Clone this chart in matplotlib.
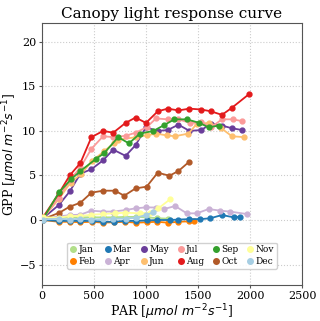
import matplotlib
matplotlib.use("Agg")
import matplotlib.pyplot as plt
from matplotlib.lines import Line2D

plt.rcParams['font.family'] = ['DejaVu Serif']
plt.rcParams['mathtext.fontset'] = 'dejavusans'

months = ['Jan', 'Feb', 'Mar', 'Apr', 'May', 'Jun', 'Jul', 'Aug', 'Sep', 'Oct', 'Nov', 'Dec']
colors = ['#b2df8a', '#ff7f00', '#1f78b4', '#cab2d6', '#6a3d9a', '#fdbf6f',
          '#fb9a99', '#e31a1c', '#33a02c', '#b15928', '#ffff99', '#a6cee3']

jan_par = [10, 160, 270, 370, 480, 590, 690, 800, 905, 1005, 1110, 1210]
jan_gpp = [0.2, 0.25, 0.3, 0.3, 0.3, 0.3, 0.3, 0.35, 0.35, 0.3, 0.2, 0.15]
feb_par = [10, 160, 270, 370, 480, 590, 690, 800, 905, 1005, 1110, 1210, 1310, 1415, 1460]
feb_gpp = [0.0, -0.2, -0.2, -0.25, -0.2, -0.3, -0.25, -0.2, -0.3, -0.25, -0.2, -0.3, -0.2, -0.15, -0.1]
mar_par = [10, 160, 270, 370, 480, 590, 690, 800, 905, 1005, 1110, 1226, 1312, 1418, 1520, 1617, 1730, 1843, 1907]
mar_gpp = [0.0, -0.1, -0.1, -0.1, -0.1, -0.2, -0.2, -0.1, -0.1, -0.05, 0.0, 0.0, 0.05, 0.1, 0.1, 0.19, 0.56, 0.3, 0.37]
apr_par = [10, 160, 270, 370, 476, 588, 685, 804, 900, 1000, 1100, 1174, 1280, 1392, 1489, 1601, 1714, 1810, 1971]
apr_gpp = [0.1, 0.4, 0.55, 0.6, 1.05, 0.95, 0.95, 1.12, 1.31, 1.42, 1.4, 1.23, 1.57, 0.75, 0.75, 1.23, 1.05, 0.94, 0.67]
may_par = [10, 164, 267, 370, 476, 588, 685, 804, 900, 1000, 1113, 1209, 1312, 1418, 1531, 1624, 1730, 1826, 1923]
may_gpp = [0.2, 1.7, 3.2, 5.2, 5.7, 6.7, 7.9, 7.2, 8.4, 10.4, 10.0, 10.1, 10.7, 10.0, 10.1, 10.8, 10.6, 10.3, 10.1]
jun_par = [10, 165, 275, 380, 480, 595, 690, 727, 905, 1005, 1097, 1199, 1277, 1408, 1489, 1610, 1723, 1826, 1945]
jun_gpp = [0.2, 2.4, 4.2, 5.2, 6.6, 7.7, 8.6, 9.0, 9.3, 9.5, 9.7, 9.5, 9.4, 9.7, 10.8, 10.9, 10.3, 9.4, 9.3]
jul_par = [10, 160, 270, 370, 476, 588, 685, 804, 900, 1005, 1097, 1209, 1312, 1424, 1531, 1625, 1730, 1835, 1923]
jul_gpp = [0.2, 2.5, 4.5, 5.9, 8.0, 9.4, 9.3, 9.45, 9.8, 10.4, 11.4, 11.3, 11.3, 10.9, 10.95, 10.4, 11.3, 11.3, 11.1]
aug_par = [10, 164, 267, 370, 476, 588, 685, 804, 900, 1000, 1113, 1209, 1312, 1418, 1531, 1624, 1730, 1826, 1987]
aug_gpp = [0.3, 3.0, 5.0, 6.4, 9.3, 10.0, 9.8, 10.9, 11.5, 10.9, 12.2, 12.5, 12.3, 12.5, 12.4, 12.2, 11.8, 12.6, 14.1]
sep_par = [10, 164, 283, 370, 524, 598, 733, 836, 942, 1071, 1174, 1273, 1392, 1514, 1601, 1698]
sep_gpp = [0.1, 3.1, 4.6, 5.5, 6.9, 7.5, 9.3, 8.6, 9.7, 10.0, 10.65, 11.3, 11.3, 10.9, 10.4, 10.6]
oct_par = [10, 164, 267, 370, 476, 588, 701, 791, 900, 1006, 1113, 1225, 1312, 1415]
oct_gpp = [0.1, 0.8, 1.5, 1.94, 3.07, 3.29, 3.29, 2.73, 3.55, 3.74, 5.31, 4.97, 5.5, 6.54]
nov_par = [10, 160, 270, 370, 476, 588, 701, 800, 942, 1038, 1119, 1231]
nov_gpp = [0.3, 0.26, 0.45, 0.45, 0.6, 0.67, 0.75, 0.82, 0.75, 0.82, 1.31, 2.32]
dec_par = [10, 160, 270, 370, 476, 588, 685, 804, 900, 1000, 1071]
dec_gpp = [0.05, 0.15, 0.05, 0.15, 0.05, 0.1, 0.15, 0.15, 0.25, 0.56, 0.86]

series = [(jan_par, jan_gpp), (feb_par, feb_gpp), (mar_par, mar_gpp), (apr_par, apr_gpp),
          (may_par, may_gpp), (jun_par, jun_gpp), (jul_par, jul_gpp), (aug_par, aug_gpp),
          (sep_par, sep_gpp), (oct_par, oct_gpp), (nov_par, nov_gpp), (dec_par, dec_gpp)]

fig = plt.figure(figsize=(3.2, 3.21), dpi=100)
ax = fig.add_axes([0.131, 0.112, 0.813, 0.816])

draw_order = [0, 1, 11, 10, 3, 2, 9, 5, 4, 6, 8, 7]
for i in draw_order:
    x, y = series[i]
    ax.plot(x, y, '-o', color=colors[i], lw=1.3, ms=3.5, zorder=3 + i * 0.01)

ax.set_xlim(0, 2500)
ax.set_ylim(-7.3, 22.1)
ax.set_xticks([0, 500, 1000, 1500, 2000, 2500])
ax.set_yticks([-5, 0, 5, 10, 15, 20])
ax.grid(True, linestyle=':', color='#cccccc', lw=0.8)
ax.set_axisbelow(True)
for s in ax.spines.values():
    s.set_color('#555555')
ax.tick_params(labelsize=8, length=2.5, pad=1.5, color='#555555')

ax.set_title('Canopy light response curve', fontsize=11, pad=4)
ax.set_xlabel(r'PAR [$\mu mol\ m^{-2}s^{-1}$]', fontsize=9, labelpad=1)
ax.set_ylabel(r'GPP [$\mu mol\ m^{-2}s^{-1}$]', fontsize=9, labelpad=0)

handles = [Line2D([], [], marker='o', ls='none', color=c, ms=4) for c in colors]
ax.legend(handles, months, ncol=6, loc='lower center', fontsize=6.5,
          handlelength=0.8, handletextpad=0.2, columnspacing=0.9,
          borderpad=0.3, labelspacing=0.3, bbox_to_anchor=(0.5, 0.045),
          framealpha=0.9)

fig.savefig('out.png', dpi=100)
